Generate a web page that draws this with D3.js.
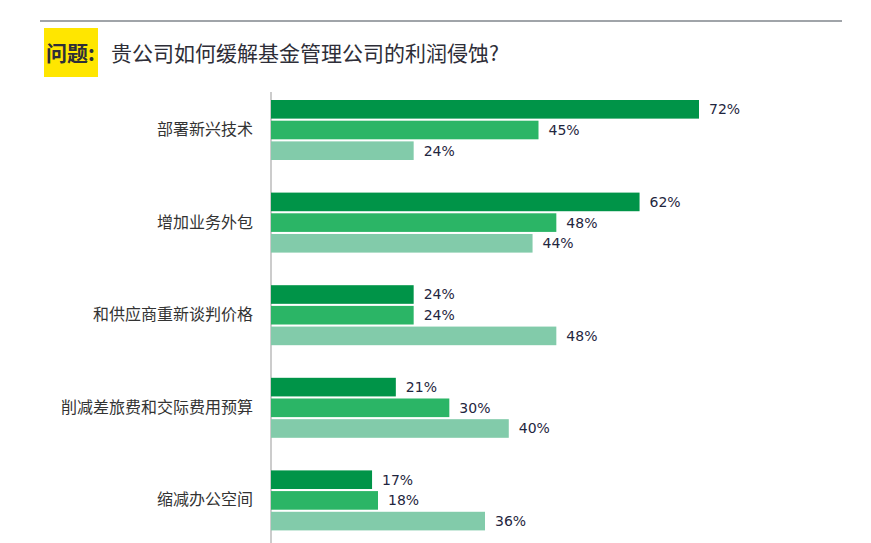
<!DOCTYPE html>
<html><head><meta charset="utf-8">
<script src="https://cdn.jsdelivr.net/npm/d3@7"></script>
<style>body{margin:0;background:#fff}svg{display:block}</style>
</head><body><div id="chart"></div>
<script>
var categories = ["部署新兴技术", "增加业务外包", "和供应商重新谈判价格", "削减差旅费和交际费用预算", "缩减办公空间"];
var series1 = [72, 62, 24, 21, 17];
var series2 = [45, 48, 24, 30, 18];
var series3 = [24, 44, 48, 40, 36];
var colors = ["#009448", "#2bb566", "#82cbaa"];

var W = 871, H = 543;
var svg = d3.select("#chart").append("svg").attr("width", W).attr("height", H)
  .style("font-family", "'Noto Sans CJK SC', sans-serif");

svg.append("line").attr("x1", 40).attr("x2", 842).attr("y1", 21).attr("y2", 21)
  .attr("stroke", "#80868c").attr("stroke-width", 1.5);
svg.append("rect").attr("x", 44).attr("y", 28).attr("width", 54).attr("height", 49).attr("fill", "#ffe600");
svg.append("text").attr("x", 46).attr("y", 61).attr("font-size", 21).attr("font-weight", "bold")
  .attr("fill", "#2e2e38").text("问题:");
svg.append("text").attr("x", 111).attr("y", 61).attr("font-size", 21)
  .attr("fill", "#2e2e38").text("贵公司如何缓解基金管理公司的利润侵蚀?");

var x = d3.scaleLinear().domain([0, 72]).range([271, 699]);
var y = d3.scaleBand().domain(categories).range([85, 548]).paddingInner(0).paddingOuter(0);
var inner = d3.scaleBand().domain([0, 1, 2]).range([0, 60]).paddingInner(0.1);
var groupOff = 15;

svg.append("line").attr("x1", 271).attr("x2", 271).attr("y1", 92).attr("y2", 543).attr("stroke", "#999");

var all = [series1, series2, series3];
categories.forEach(function (c, ci) {
  var g = svg.append("g").attr("transform", "translate(0," + (y(c) + groupOff) + ")");
  all.forEach(function (s, si) {
    g.append("rect").attr("x", x(0)).attr("y", inner(si))
      .attr("width", x(s[ci]) - x(0)).attr("height", inner.bandwidth()).attr("fill", colors[si]);
    g.append("text").attr("x", x(s[ci]) + 10).attr("y", inner(si) + inner.bandwidth() / 2 + 5)
      .attr("font-size", 14).attr("font-family", "'DejaVu Sans', sans-serif").attr("fill", "#1f2640")
      .text(s[ci] + "%");
  });
  g.append("text").attr("x", 253).attr("y", inner(1) + inner.bandwidth() / 2 + 5)
    .attr("text-anchor", "end").attr("font-size", 16).attr("fill", "#333").text(c);
});
</script></body></html>
